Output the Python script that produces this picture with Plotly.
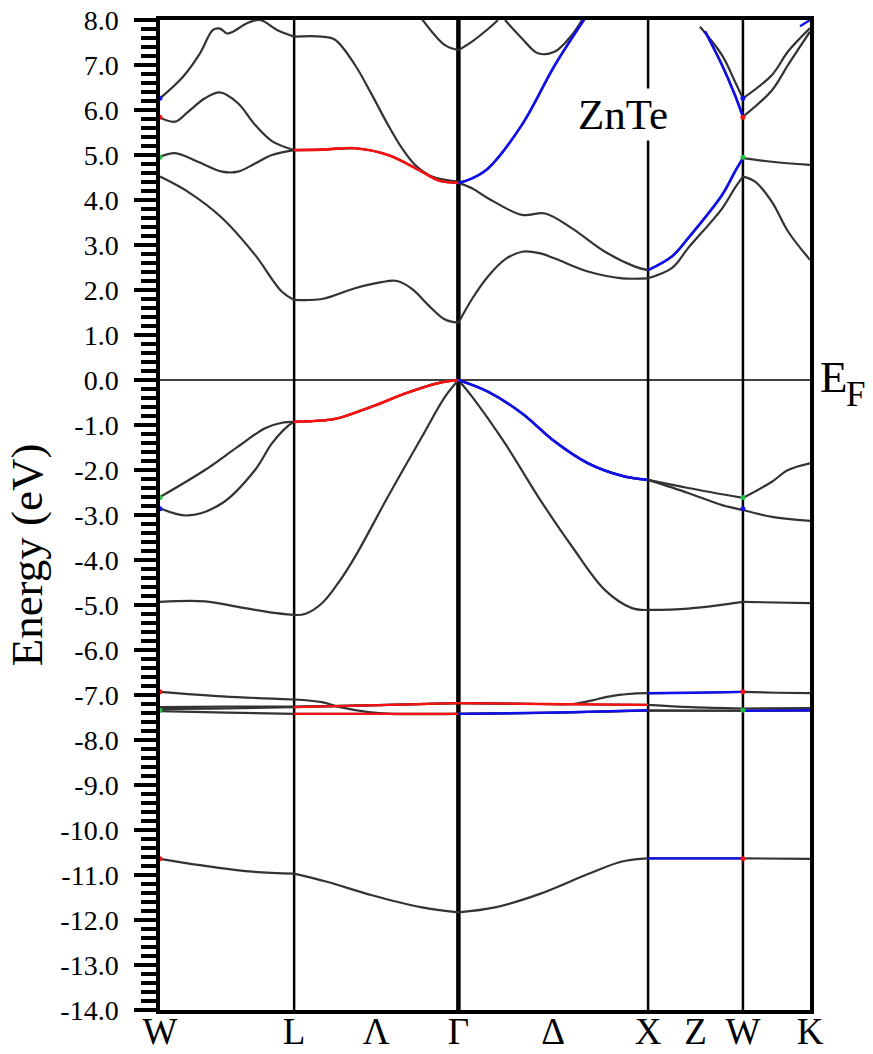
import plotly.graph_objects as go

# ---------------- high-symmetry path (k in units of 2*pi/a) ----------------
HS_K = [0.0, 0.7071, 1.5731, 2.5731, 3.0731, 3.4267]
tick_k = [0.0, 0.7071, 1.1401, 1.5731, 2.0731, 2.5731, 2.8231, 3.0731, 3.4267]
tick_text = ["W", "L", "Λ", "Γ", "Δ", "X", "Z", "W", "K"]
e_ticks = list(range(-14, 9))
e_tick_text = [f"{v:.1f}" for v in e_ticks]

# ---------------- bands (energy in eV) ----------------
s_k = [0, 0.21, 0.47, 0.7071, 0.88, 1.118, 1.381, 1.5731, 1.766, 2.003, 2.256, 2.436, 2.5731, 3.0731, 3.4267]
s_e = [-10.64, -10.78, -10.92, -10.97, -11.15, -11.45, -11.72, -11.83, -11.72, -11.42, -10.98, -10.70, -10.63, -10.63, -10.64]

d1_k = [0, 0.33, 0.7071, 0.854, 0.949, 1.10, 1.213, 1.5731, 2.0, 2.5731, 3.0731, 3.4267]
d1_e = [-6.93, -7.03, -7.10, -7.16, -7.27, -7.38, -7.42, -7.42, -7.40, -7.35, -7.35, -7.34]
d2_k = [0, 0.35, 0.7071, 1.1, 1.5731, 2.0, 2.177, 2.28, 2.357, 2.494, 2.5731, 2.82, 3.0731, 3.25, 3.4267]
d2_e = [-7.27, -7.26, -7.26, -7.23, -7.18, -7.20, -7.20, -7.12, -7.04, -6.97, -6.96, -6.95, -6.93, -6.95, -6.96]
d3_k = [0, 0.35, 0.7071, 1.1, 1.5731, 2.0, 2.5731, 2.8, 3.0731, 3.4267]
d3_e = [-7.31, -7.30, -7.27, -7.23, -7.18, -7.20, -7.22, -7.27, -7.30, -7.29]
d4_k = [0, 0.35, 0.7071, 1.1, 1.5731, 2.1, 2.5731, 3.0731, 3.4267]
d4_e = [-7.36, -7.39, -7.42, -7.42, -7.42, -7.39, -7.34, -7.35, -7.34]

v3_k = [0, 0.237, 0.411, 0.590, 0.7071, 0.764, 0.854, 0.938, 1.028, 1.202, 1.381, 1.503, 1.5731,
        1.645, 1.819, 1.993, 2.172, 2.346, 2.488, 2.5731, 2.784, 3.0731, 3.4267]
v3_e = [-4.93, -4.92, -5.04, -5.17, -5.22, -5.20, -4.96, -4.52, -3.93, -2.59, -1.26, -0.37, 0.0,
        -0.37, -1.41, -2.59, -3.70, -4.67, -5.07, -5.11, -5.08, -4.93, -4.96]
v2_k = [0, 0.237, 0.411, 0.554, 0.643, 0.7071, 0.854, 0.938, 1.118, 1.292, 1.466, 1.5731,
        1.729, 1.908, 2.082, 2.256, 2.436, 2.5731, 2.784, 3.0731, 3.226, 3.311, 3.4267]
v2_e = [-2.60, -2.00, -1.48, -1.07, -0.95, -0.93, -0.90, -0.85, -0.59, -0.30, -0.07, 0.0,
        -0.26, -0.74, -1.37, -1.85, -2.13, -2.22, -2.40, -2.62, -2.26, -2.00, -1.85]
v1_k = [0, 0.148, 0.327, 0.501, 0.590, 0.675, 0.7071, 0.854, 0.938, 1.118, 1.292, 1.466, 1.5731,
        1.729, 1.908, 2.082, 2.256, 2.436, 2.5731, 2.784, 2.963, 3.0731, 3.226, 3.4267]
v1_e = [-2.85, -3.01, -2.74, -2.00, -1.41, -1.02, -0.93, -0.90, -0.85, -0.59, -0.30, -0.07, 0.0,
        -0.26, -0.74, -1.37, -1.85, -2.13, -2.22, -2.51, -2.78, -2.89, -3.04, -3.13]

c1_k = [0, 0.148, 0.327, 0.501, 0.643, 0.7071, 0.854, 1.028, 1.16, 1.25, 1.33, 1.413, 1.50, 1.5731,
        1.645, 1.729, 1.819, 1.908, 2.0, 2.082, 2.256, 2.436, 2.5731, 2.70, 2.784, 2.963, 3.031, 3.0731,
        3.137, 3.226, 3.311, 3.4267]
c1_e = [4.52, 4.18, 3.60, 2.78, 1.96, 1.78, 1.80, 2.04, 2.17, 2.20, 2.02, 1.67, 1.35, 1.27,
        1.80, 2.30, 2.68, 2.85, 2.82, 2.70, 2.41, 2.26, 2.26, 2.49, 2.93, 3.81, 4.27, 4.52,
        4.41, 3.96, 3.30, 2.67]
c2_k = [0, 0.079, 0.2, 0.327, 0.411, 0.501, 0.590, 0.7071, 0.854, 1.028, 1.202, 1.381, 1.466, 1.5731,
        1.645, 1.729, 1.908, 2.030, 2.172, 2.346, 2.504, 2.5731, 2.70, 2.784, 2.963, 3.031, 3.0731,
        3.226, 3.4267]
c2_e = [4.96, 5.04, 4.85, 4.63, 4.63, 4.81, 5.00, 5.11, 5.12, 5.15, 5.00, 4.63, 4.44, 4.38,
        4.26, 4.04, 3.67, 3.70, 3.37, 2.85, 2.52, 2.44, 2.75, 3.15, 4.11, 4.63, 4.93,
        4.85, 4.78]
c3_k = [0, 0.079, 0.148, 0.237, 0.316, 0.411, 0.501, 0.590, 0.7071, 0.854, 1.028, 1.202, 1.381, 1.466,
        1.5731, 1.645, 1.729, 1.908, 2.082, 2.241]
c3_e = [5.83, 5.74, 5.96, 6.26, 6.39, 6.15, 5.67, 5.31, 5.11, 5.12, 5.15, 5.00, 4.63, 4.44,
        4.38, 4.48, 4.70, 5.67, 7.00, 8.04]
c4_k = [0, 0.1213, 0.2109, 0.2794, 0.3163, 0.3532, 0.3848, 0.4586, 0.5272, 0.6168, 0.7071,
        0.854, 0.9226, 1.028, 1.118, 1.202, 1.2758, 1.3443, 1.4339, 1.5731]
c4_e = [6.26, 6.74, 7.26, 7.78, 7.81, 7.70, 7.74, 7.93, 8.00, 7.78, 7.63,
        7.63, 7.56, 7.00, 6.33, 5.67, 5.15, 4.78, 4.52, 4.41]
t1_k = [1.3812, 1.5025, 1.5731, 1.6448, 1.7292, 1.7819]
t1_e = [8.02, 7.44, 7.33, 7.52, 7.80, 8.00]
t2_k = [1.8188, 1.9084, 1.9927, 2.0824, 2.1720, 2.2247]
t2_e = [8.00, 7.59, 7.26, 7.30, 7.67, 8.00]
u1_k = [2.8468, 2.9627, 3.0313, 3.0731, 3.2263, 3.3107, 3.4267]
u1_e = [7.85, 7.22, 6.63, 6.26, 6.78, 7.30, 7.82]
u2_k = [2.8731, 2.9627, 3.0313, 3.0731, 3.2263, 3.3107, 3.4267]
u2_e = [7.75, 7.00, 6.33, 5.85, 6.44, 7.00, 7.74]
u3_k = [3.374, 3.4267]
u3_e = [7.86, 8.00]

# symmetry-character dots at the two W points
dot_w_k = [0.0, 3.0731]
dot_red_e = [5.84, -6.93, -10.64]
dot_blue_e = [6.26, -2.86]
dot_green_e = [4.95, -2.61, -7.34]

BLACK = "#333333"
RED = "#ff1010"
BLUE = "#1010ee"
GREEN = "#20c040"


def split(k, e, k0=None, k1=None):
    """Split a band at high-symmetry points so each path segment is smoothed alone."""
    xs, ys = [], []
    for a, b in zip(HS_K[:-1], HS_K[1:]):
        pts = [(kk, ee) for kk, ee in zip(k, e) if a - 1e-4 <= kk <= b + 1e-4]
        if k0 is not None:
            pts = [p for p in pts if k0 - 1e-4 <= p[0] <= k1 + 1e-4]
        if len(pts) >= 2:
            xs += [p[0] for p in pts] + [None]
            ys += [p[1] for p in pts] + [None]
    return xs, ys


fig = go.Figure()


def add(k, e, color, width, k0=None, k1=None):
    xs, ys = split(k, e, k0, k1)
    fig.add_trace(go.Scatter(x=xs, y=ys, mode="lines",
                             line=dict(color=color, width=width, shape="spline", smoothing=1.0),
                             hoverinfo="skip", showlegend=False))


black_bands = [(s_k, s_e), (d1_k, d1_e), (d2_k, d2_e), (d3_k, d3_e), (d4_k, d4_e),
               (v3_k, v3_e), (v2_k, v2_e), (v1_k, v1_e),
               (c1_k, c1_e), (c2_k, c2_e), (c3_k, c3_e), (c4_k, c4_e),
               (t1_k, t1_e), (t2_k, t2_e), (u1_k, u1_e), (u2_k, u2_e)]
for k, e in black_bands:
    add(k, e, BLACK, 2.2)

L, G, X, W2, K = HS_K[1], HS_K[2], HS_K[3], HS_K[4], HS_K[5]
# red (Lambda-direction) highlights
add(c2_k, c2_e, RED, 2.6, L, G)
add(v2_k, v2_e, RED, 2.6, L, G)
add(d3_k, d3_e, RED, 2.4, L, G)
add(d4_k, d4_e, RED, 2.4, L, G)
add(d3_k, d3_e, RED, 2.4, G, X)
# blue highlights
add(c3_k, c3_e, BLUE, 2.6, G, X)
add(c2_k, c2_e, BLUE, 2.6, X, W2)
add(u2_k, u2_e, BLUE, 2.6, X, W2)
add(v2_k, v2_e, BLUE, 2.6, G, X)
add(d4_k, d4_e, BLUE, 2.4, G, X)
add(d2_k, d2_e, BLUE, 2.4, X, W2)
add(d1_k, d1_e, BLUE, 2.4, W2, K)
add(s_k, s_e, BLUE, 2.4, X, W2)
fig.add_trace(go.Scatter(x=u3_k, y=u3_e, mode="lines", line=dict(color=BLUE, width=2.4),
                         hoverinfo="skip", showlegend=False))

for col, elist in [(RED, dot_red_e), (BLUE, dot_blue_e), (GREEN, dot_green_e)]:
    xs = [kk for kk in dot_w_k for _ in elist]
    ys = [ee for _ in dot_w_k for ee in elist]
    fig.add_trace(go.Scatter(x=xs, y=ys, mode="markers",
                             marker=dict(color=col, size=5, line=dict(width=0)),
                             hoverinfo="skip", showlegend=False))

shapes = []
for kk in HS_K[1:-1]:
    shapes.append(dict(type="line", xref="x", yref="paper", x0=kk, x1=kk, y0=0, y1=1,
                       line=dict(color="black", width=4.5 if kk == G else 2.5), layer="below"))
shapes.append(dict(type="line", xref="paper", yref="y", x0=0, x1=1, y0=0, y1=0,
                   line=dict(color="black", width=1.5), layer="below"))

SERIF = "Liberation Serif"
annotations = [
    dict(text="ZnTe", x=2.44, y=5.91, xref="x", yref="y", showarrow=False,
         font=dict(family=SERIF, size=43, color="black"), bgcolor="white", borderpad=2),
    dict(text="E", x=1.012, y=0.06, xref="paper", yref="y", xanchor="left", yanchor="middle",
         showarrow=False, font=dict(family=SERIF, size=45, color="black")),
    dict(text="F", x=1.052, y=-0.33, xref="paper", yref="y", xanchor="left", yanchor="middle",
         showarrow=False, font=dict(family=SERIF, size=35, color="black")),
    dict(text="Energy (eV)", x=-0.205, y=0.46, xref="paper", yref="paper", textangle=-90,
         xanchor="center", yanchor="middle", showarrow=False,
         font=dict(family=SERIF, size=45, color="black")),
]

fig.update_layout(
    width=873, height=1054,
    margin=dict(l=160, r=63, t=20, b=44, autoexpand=False),
    paper_bgcolor="white", plot_bgcolor="white",
    shapes=shapes, annotations=annotations,
    xaxis=dict(range=[0, K], showgrid=False, zeroline=False, showline=True, linewidth=4,
               linecolor="black", mirror=True, tickmode="array", tickvals=tick_k, ticktext=tick_text,
               ticks="", ticklabelstandoff=-14,
               tickfont=dict(family=SERIF, size=37, color="black"), automargin=False),
    yaxis=dict(range=[-14, 8], showgrid=False, zeroline=False, showline=True, linewidth=3.5,
               linecolor="black", mirror=True, tickmode="array", tickvals=e_ticks, ticktext=e_tick_text,
               ticks="outside", ticklen=22, tickwidth=3.5, tickcolor="black",
               ticklabelstandoff=10,
               minor=dict(dtick=0.2, ticks="outside", ticklen=15, tickwidth=3.5, tickcolor="black",
                          showgrid=False),
               tickfont=dict(family=SERIF, size=28, color="black"), automargin=False),
)

fig.write_html("out.html")
